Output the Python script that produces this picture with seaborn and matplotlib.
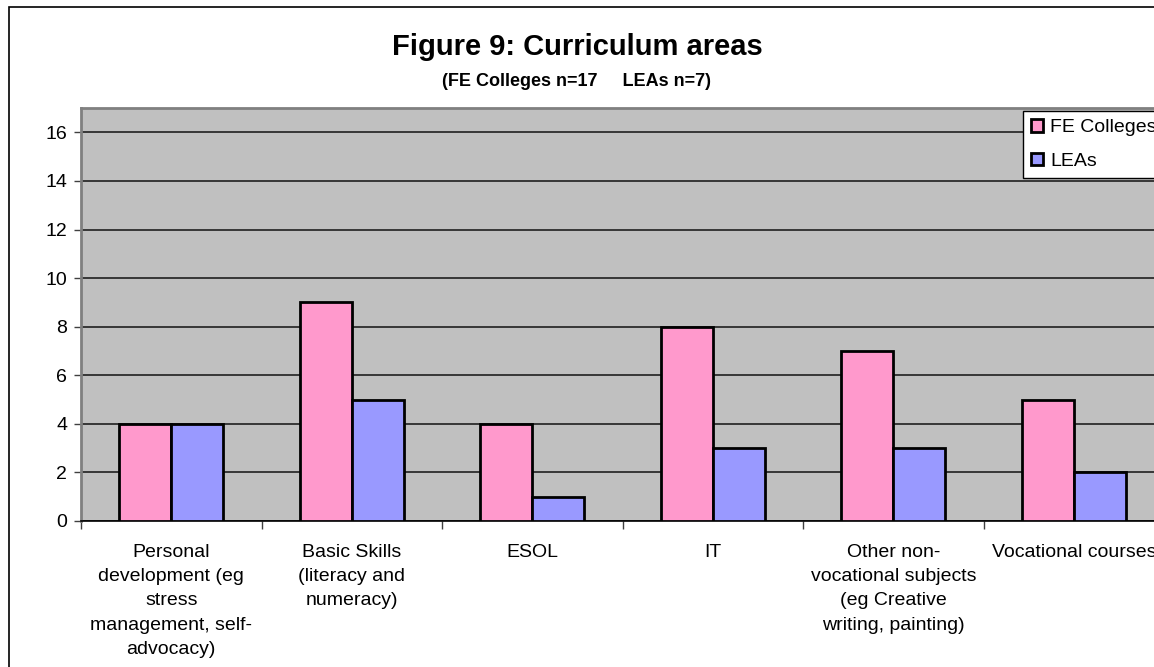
import numpy as np
import pandas as pd
import matplotlib
matplotlib.use("Agg")
import matplotlib.pyplot as plt
import matplotlib.patches as mpatches
import seaborn as sns

# Data
areas = [
    "Personal\ndevelopment (eg\nstress\nmanagement, self-\nadvocacy)",
    "Basic Skills\n(literacy and\nnumeracy)",
    "ESOL",
    "IT",
    "Other non-\nvocational subjects\n(eg Creative\nwriting, painting)",
    "Vocational courses",
]
fe_colleges = [4, 9, 4, 8, 7, 5]
leas = [4, 5, 1, 3, 3, 2]
groups = ["FE Colleges", "LEAs"]
colors = ["#FF99CC", "#9999FF"]
y_ticks = [0, 2, 4, 6, 8, 10, 12, 14, 16]

df = pd.DataFrame({
    "area": areas * 2,
    "count": fe_colleges + leas,
    "group": [groups[0]] * len(areas) + [groups[1]] * len(areas),
})

plt.rcParams["font.family"] = ["Liberation Sans", "DejaVu Sans"]

fig = plt.figure(figsize=(11.54, 6.67), dpi=100)
ax = fig.add_axes([0.0702, 0.2189, 0.9385, 0.6191])
ax.set_facecolor("#C0C0C0")

sns.barplot(data=df, x="area", y="count", hue="group", palette=colors,
            width=0.575, saturation=1, edgecolor="black", linewidth=2,
            errorbar=None, ax=ax, zorder=3)

# axes styling
ax.set_ylim(0, 17)
ax.set_xlim(-0.5, len(areas) - 0.5)
ax.set_yticks(y_ticks)
ax.yaxis.grid(True, color="#202020", linewidth=1.2, zorder=1)
ax.set_axisbelow(True)
ax.set_xlabel("")
ax.set_ylabel("")

ax.tick_params(axis="y", labelsize=14, length=5, width=1, color="#404040", pad=5)
ax.set_xticks(np.arange(-0.5, len(areas), 1), minor=True)
ax.tick_params(axis="x", which="minor", length=6, width=1, color="#404040")
ax.set_xticks(range(len(areas)))
ax.set_xticklabels([""] * len(areas))
ax.tick_params(axis="x", which="major", length=0)

# category labels (wrapped, centred under each group)
for i, label in enumerate(areas):
    ax.annotate(label, xy=(i, 0), xycoords=ax.get_xaxis_transform(),
                xytext=(0, -16.5), textcoords="offset points",
                ha="center", va="top", fontsize=14, linespacing=1.56,
                annotation_clip=False)

for side in ["left", "top"]:
    ax.spines[side].set_color("#808080")
    ax.spines[side].set_linewidth(2)
ax.spines["right"].set_visible(False)
ax.spines["bottom"].set_color("black")
ax.spines["bottom"].set_linewidth(1.2)

# legend
handles = [mpatches.Patch(facecolor=c, edgecolor="black", linewidth=2) for c in colors]
ax.get_legend().remove()
leg = fig.legend(handles, groups, loc="upper left",
                 bbox_to_anchor=(1023 / 1154, 1 - 111 / 667), borderaxespad=0,
                 fontsize=14, frameon=True, fancybox=False, framealpha=1,
                 edgecolor="black", borderpad=0.42, labelspacing=0.85,
                 handlelength=0.62, handleheight=0.62, handletextpad=0.35)
leg.get_frame().set_linewidth(1)

# titles
fig.text(0.5, 1 - 55 / 667, "Figure 9: Curriculum areas", ha="center",
         va="baseline", fontsize=21, fontweight="bold")
fig.text(0.5, 1 - 86 / 667, "(FE Colleges n=17     LEAs n=7)", ha="center",
         va="baseline", fontsize=13, fontweight="bold")

# outer chart border
fig.patches.append(mpatches.Rectangle((9 / 1154, -0.1), 1.2, 1 - 7 / 667 + 0.1,
                                      transform=fig.transFigure, fill=False,
                                      edgecolor="black", linewidth=1.2))

fig.savefig("out.png", dpi=100)
